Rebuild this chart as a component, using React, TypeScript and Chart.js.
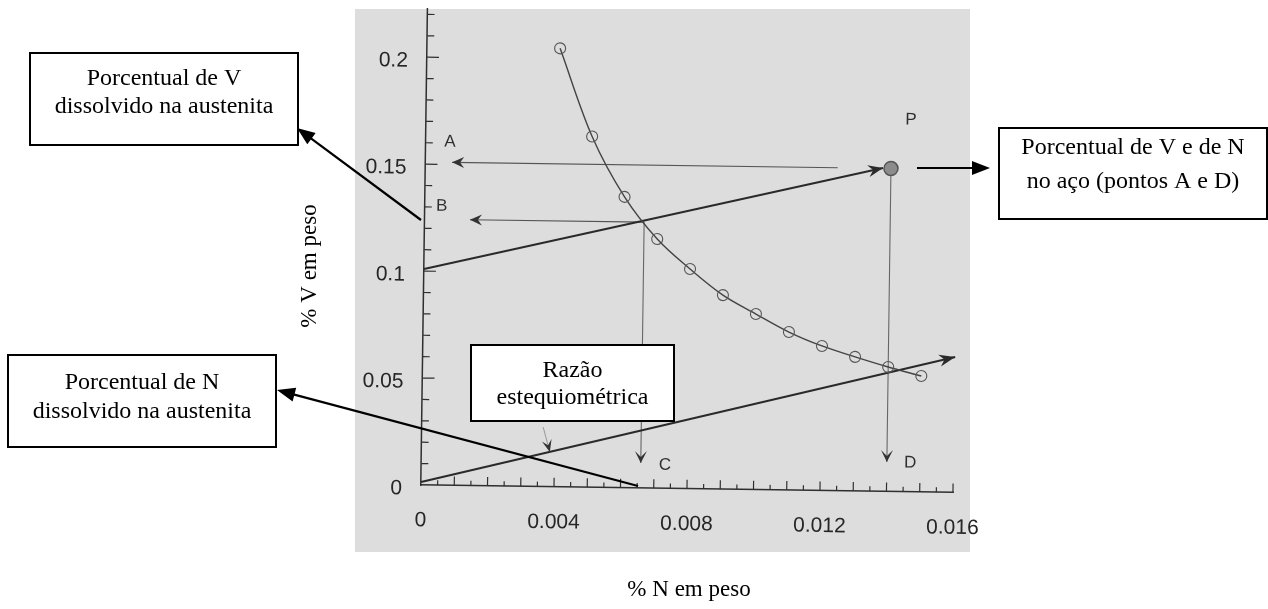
import React, { useEffect, useRef } from 'react';
import { Chart, registerables } from 'chart.js';

Chart.register(...registerables);

// ---- data (values in % by weight) ----
const solubilityN = [0.004, 0.005, 0.006, 0.007, 0.008, 0.009, 0.010, 0.011, 0.012, 0.013, 0.014, 0.015];
const solubilityV = [0.205, 0.164, 0.136, 0.1165, 0.1027, 0.0907, 0.0821, 0.0739, 0.0676, 0.0627, 0.0582, 0.0542];

const pointPN = [0.014];
const pointPV = [0.151];

const upperLineN = [0, 0.01376];
const upperLineV = [0.101, 0.1512];
const lowerLineN = [0, 0.01601];
const lowerLineV = [0.0014, 0.0633];
const lineAN = [0.0124, 0.0008];
const lineAV = [0.151, 0.151];
const lineBN = [0.0066, 0.00136];
const lineBV = [0.1243, 0.1243];
const lineCN = [0.0066, 0.0066];
const lineCV = [0.1243, 0.0117];
const lineDN = [0.014, 0.014];
const lineDV = [0.151, 0.0138];
const ratioArrowN = [0.00365, 0.00386];
const ratioArrowV = [0.0279, 0.0163];

const letterTexts = ['A', 'B', 'C', 'D', 'P'];
const letterN = [0.00073, 0.00051, 0.00733, 0.0147, 0.01458];
const letterV = [0.1605, 0.1305, 0.0109, 0.0135, 0.1738];

const xTickValues = [0, 0.004, 0.008, 0.012, 0.016];
const xTickLabels = ['0', '0.004', '0.008', '0.012', '0.016'];
const yTickValues = [0, 0.05, 0.1, 0.15, 0.2];
const yTickLabels = ['0', '0.05', '0.1', '0.15', '0.2'];

const xAxisTitle = '% N em peso';
const yAxisTitle = '% V em peso';

const boxTexts = [
  ['Porcentual de V', 'dissolvido na austenita'],
  ['Porcentual de N', 'dissolvido na austenita'],
  ['Razão', 'estequiométrica'],
  ['Porcentual de V e de N', 'no aço (pontos A e D)'],
];

// ---- layout / style ----
const W = 1268;
const H = 609;
const TILT = (0.8 * Math.PI) / 180;
const SCAN_RECT = { x: 355, y: 9, w: 615, h: 543 };
const SCAN_BG = '#dddddd';
const INK = '#2f2f2f';
const BOX_FONT = '24px "Liberation Serif", "Times New Roman", serif';
const TITLE_FONT = '23px "Liberation Serif", "Times New Roman", serif';

const boxLayout = [
  { x: 30, y: 53, w: 268, h: 92, ly: [79, 107] },
  { x: 8, y: 355, w: 268, h: 92, ly: [383, 412] },
  { x: 471, y: 345, w: 203, h: 76, ly: [371, 398] },
  { x: 999, y: 128, w: 268, h: 91, ly: [148, 182] },
];
// callout arrows (tail -> head), pixels
const callouts = [
  { x1: 421, y1: 220, x2: 297, y2: 128 },
  { x1: 638, y1: 486, x2: 277, y2: 390 },
  { x1: 917, y1: 168, x2: 990, y2: 168 },
];

const pts = (xs: number[], ys: number[]) => xs.map((x, i) => ({ x, y: ys[i] }));

function stealth(ctx: CanvasRenderingContext2D, x1: number, y1: number, x2: number, y2: number, len: number, half: number, notch: number) {
  const a = Math.atan2(y2 - y1, x2 - x1);
  const c = Math.cos(a), s = Math.sin(a);
  const bx = x2 - len * c, by = y2 - len * s;
  ctx.beginPath();
  ctx.moveTo(x2, y2);
  ctx.lineTo(bx - half * s, by + half * c);
  ctx.lineTo(x2 - (len - notch) * c, y2 - (len - notch) * s);
  ctx.lineTo(bx + half * s, by - half * c);
  ctx.closePath();
  ctx.fill();
}

const scanPlugin = {
  id: 'scanPlugin',
  beforeDraw(chart: any) {
    const ctx = chart.ctx as CanvasRenderingContext2D;
    const xs = chart.scales.x, ys = chart.scales.y;
    ctx.save();
    ctx.fillStyle = '#ffffff';
    ctx.fillRect(0, 0, W, H);
    ctx.fillStyle = SCAN_BG;
    ctx.fillRect(SCAN_RECT.x, SCAN_RECT.y, SCAN_RECT.w, SCAN_RECT.h);
    const ox = xs.getPixelForValue(0), oy = ys.getPixelForValue(0);
    ctx.translate(ox, oy);
    ctx.rotate(TILT);
    ctx.translate(-ox, -oy);
    // inward tick marks
    ctx.strokeStyle = INK;
    ctx.lineWidth = 1.2;
    ctx.beginPath();
    for (let k = 1; k <= 22; k++) {
      const py = ys.getPixelForValue(k / 100);
      const len = k % 5 === 0 ? 12 : 7;
      ctx.moveTo(ox, py);
      ctx.lineTo(ox + len, py);
    }
    for (let k = 1; k <= 32; k++) {
      const px = xs.getPixelForValue(k * 0.0005);
      const len = k % 2 === 0 ? 9 : 5;
      ctx.moveTo(px, oy);
      ctx.lineTo(px, oy - len);
    }
    ctx.stroke();
  },
  afterDatasetsDraw(chart: any) {
    const ctx = chart.ctx as CanvasRenderingContext2D;
    chart.data.datasets.forEach((ds: any, i: number) => {
      if (!ds.arrow) return;
      const meta = chart.getDatasetMeta(i);
      const n = meta.data.length;
      const p1 = meta.data[n - 2], p2 = meta.data[n - 1];
      ctx.fillStyle = ds.arrow.color;
      stealth(ctx, p1.x, p1.y, p2.x, p2.y, ds.arrow.len, ds.arrow.half, ds.arrow.notch);
    });
    const xs = chart.scales.x, ys = chart.scales.y;
    ctx.fillStyle = INK;
    ctx.font = '17px "Liberation Sans", Arial, sans-serif';
    ctx.textAlign = 'center';
    ctx.textBaseline = 'middle';
    letterTexts.forEach((t, i) => {
      ctx.fillText(t, xs.getPixelForValue(letterN[i]), ys.getPixelForValue(letterV[i]));
    });
  },
  afterDraw(chart: any) {
    const ctx = chart.ctx as CanvasRenderingContext2D;
    ctx.restore();
    ctx.save();
    // boxes
    ctx.font = BOX_FONT;
    ctx.textAlign = 'center';
    ctx.textBaseline = 'middle';
    boxLayout.forEach((b, i) => {
      ctx.fillStyle = '#ffffff';
      ctx.fillRect(b.x, b.y, b.w, b.h);
      ctx.strokeStyle = '#000000';
      ctx.lineWidth = 2;
      ctx.strokeRect(b.x, b.y, b.w, b.h);
      ctx.fillStyle = '#000000';
      boxTexts[i].forEach((line, j) => ctx.fillText(line, b.x + b.w / 2, b.ly[j]));
    });
    // callout arrows
    callouts.forEach((c) => {
      const a = Math.atan2(c.y2 - c.y1, c.x2 - c.x1);
      ctx.strokeStyle = '#000000';
      ctx.lineWidth = 2.2;
      ctx.beginPath();
      ctx.moveTo(c.x1, c.y1);
      ctx.lineTo(c.x2 - 14 * Math.cos(a), c.y2 - 14 * Math.sin(a));
      ctx.stroke();
      ctx.fillStyle = '#000000';
      stealth(ctx, c.x1, c.y1, c.x2, c.y2, 18, 7, 0);
    });
    // axis titles
    ctx.font = TITLE_FONT;
    ctx.fillStyle = '#000000';
    ctx.fillText(xAxisTitle, 689, 590);
    ctx.translate(310, 266);
    ctx.rotate(-Math.PI / 2);
    ctx.fillText(yAxisTitle, 0, 0);
    ctx.restore();
  },
};

export default function App() {
  const ref = useRef<HTMLCanvasElement | null>(null);
  useEffect(() => {
    if (!ref.current) return;
    const segStyle = { pointRadius: 0, showLine: true, clip: false as any, tension: 0 };
    const chart = new Chart(ref.current, {
      type: 'scatter',
      data: {
        datasets: [
          {
            label: 'P',
            data: pts(pointPN, pointPV),
            pointRadius: 7,
            pointBackgroundColor: '#8c8c8c',
            pointBorderColor: '#555555',
            pointBorderWidth: 1.5,
            showLine: false,
            clip: false as any,
          },
          {
            label: 'Solubilidade',
            data: pts(solubilityN, solubilityV),
            showLine: true,
            borderColor: '#444444',
            borderWidth: 1.4,
            tension: 0.35,
            pointRadius: 5.5,
            pointStyle: 'circle',
            pointBackgroundColor: 'rgba(0,0,0,0)',
            pointBorderColor: '#555555',
            pointBorderWidth: 1.1,
            clip: false as any,
          },
          { label: 'V', data: pts(upperLineN, upperLineV), borderColor: '#2a2a2a', borderWidth: 2, ...segStyle, arrow: { color: '#2a2a2a', len: 15, half: 6, notch: 5 } } as any,
          { label: 'N', data: pts(lowerLineN, lowerLineV), borderColor: '#2a2a2a', borderWidth: 2, ...segStyle, arrow: { color: '#2a2a2a', len: 16, half: 6, notch: 5 } } as any,
          { label: 'A', data: pts(lineAN, lineAV), borderColor: '#555555', borderWidth: 1.2, ...segStyle, arrow: { color: '#333333', len: 12, half: 5.5, notch: 4 } } as any,
          { label: 'B', data: pts(lineBN, lineBV), borderColor: '#555555', borderWidth: 1.2, ...segStyle, arrow: { color: '#333333', len: 12, half: 5.5, notch: 4 } } as any,
          { label: 'C', data: pts(lineCN, lineCV), borderColor: '#666666', borderWidth: 1.1, ...segStyle, arrow: { color: '#333333', len: 12, half: 6, notch: 6 } } as any,
          { label: 'D', data: pts(lineDN, lineDV), borderColor: '#666666', borderWidth: 1.1, ...segStyle, arrow: { color: '#333333', len: 12, half: 6, notch: 6 } } as any,
          { label: 'razão', data: pts(ratioArrowN, ratioArrowV), borderColor: '#999999', borderWidth: 1, ...segStyle, arrow: { color: '#333333', len: 12, half: 5, notch: 5 } } as any,
        ],
      },
      options: {
        animation: false,
        responsive: false,
        devicePixelRatio: 1,
        events: [],
        layout: { padding: { left: 321, right: 315, top: 9, bottom: 24 } },
        plugins: { legend: { display: false }, tooltip: { enabled: false }, title: { display: false } },
        scales: {
          x: {
            type: 'linear',
            min: 0,
            max: 0.016,
            afterFit: (s: any) => { s.height = 100; s.paddingLeft = 0; s.paddingRight = 0; s.paddingTop = 0; s.paddingBottom = 0; },
            afterBuildTicks: (s: any) => { s.ticks = xTickValues.map((value) => ({ value })); },
            grid: { display: false, drawTicks: false },
            border: { display: true, color: INK, width: 1.5 },
            ticks: {
              autoSkip: false,
              maxRotation: 0,
              padding: 23,
              color: '#262626',
              font: { family: '"Liberation Sans", Arial, sans-serif', size: 21 },
              callback: (_v: any, i: number) => xTickLabels[i],
            },
          },
          y: {
            type: 'linear',
            min: 0,
            max: 0.2225,
            afterFit: (s: any) => { s.width = 100; s.paddingLeft = 0; s.paddingRight = 0; s.paddingTop = 0; s.paddingBottom = 0; },
            afterBuildTicks: (s: any) => { s.ticks = yTickValues.map((value) => ({ value })); },
            grid: { display: false, drawTicks: false },
            border: { display: true, color: INK, width: 1.5 },
            ticks: {
              padding: 19,
              color: '#262626',
              font: { family: '"Liberation Sans", Arial, sans-serif', size: 21, lineHeight: '8px' },
              callback: (_v: any, i: number) => ['', yTickLabels[i]],
            },
          },
        },
      },
      plugins: [scanPlugin],
    } as any);
    return () => chart.destroy();
  }, []);

  return (
    <div style={{ position: 'absolute', left: 0, top: 0, width: W, height: H, background: '#ffffff' }}>
      <canvas ref={ref} width={W} height={H} style={{ display: 'block', width: W, height: H }} />
    </div>
  );
}
